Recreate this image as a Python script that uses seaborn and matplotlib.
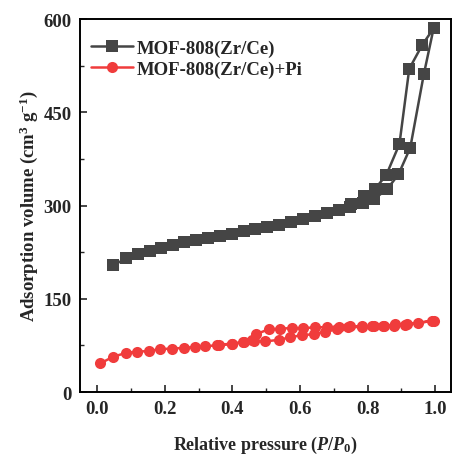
import numpy as np
import pandas as pd
import seaborn as sns
import matplotlib.pyplot as plt
from matplotlib.ticker import MultipleLocator

# MOF-808(Zr/Ce): adsorption then desorption branch
mof_ads_x = [0.048, 0.086, 0.120, 0.155, 0.189, 0.224, 0.258, 0.293, 0.327, 0.364,
             0.399, 0.434, 0.468, 0.503, 0.538, 0.573, 0.609, 0.644, 0.680, 0.714,
             0.749, 0.786, 0.820, 0.857, 0.891, 0.926, 0.966, 0.995]
mof_ads_y = [204, 215, 222, 227, 232, 236, 241, 244, 248, 251,
             254, 258, 262, 265, 269, 273, 278, 283, 288, 291,
             298, 304, 311, 326, 350, 393, 511, 585]
mof_des_x = [0.962, 0.923, 0.894, 0.855, 0.822, 0.788, 0.750, 0.714, 0.680, 0.644,
             0.609, 0.573, 0.538, 0.503, 0.468, 0.434, 0.399, 0.364, 0.327]
mof_des_y = [559, 520, 399, 349, 327, 315, 302, 294, 289, 284,
             279, 274, 270, 266, 263, 259, 255, 252, 249]

# MOF-808(Zr/Ce)+Pi: adsorption then desorption branch
pi_ads_x = [0.009, 0.048, 0.086, 0.117, 0.153, 0.186, 0.222, 0.257, 0.290, 0.320,
            0.354, 0.398, 0.433, 0.464, 0.497, 0.537, 0.571, 0.605, 0.640, 0.675,
            0.709, 0.743, 0.782, 0.814, 0.846, 0.879, 0.910, 0.950, 0.997]
pi_ads_y = [46, 57, 63, 65, 66, 69, 70, 71, 72.5, 73,
            75.5, 77.6, 80, 82.5, 81.5, 84, 88, 91.6, 93, 97,
            101, 104, 105, 106, 106, 107, 108, 111, 115]
pi_des_x = [0.990, 0.950, 0.916, 0.882, 0.848, 0.818, 0.784, 0.749, 0.716, 0.680,
            0.645, 0.610, 0.575, 0.541, 0.507, 0.470, 0.457, 0.430, 0.400, 0.360,
            0.320, 0.290]
pi_des_y = [114.6, 111, 109, 109, 106, 105.6, 106, 105.6, 105, 104.5,
            104, 103, 103, 102, 101, 93, 84, 80, 78, 76,
            74, 73]

labels = ["MOF-808(Zr/Ce)", "MOF-808(Zr/Ce)+Pi"]

df = pd.concat([
    pd.DataFrame({"x": mof_ads_x + mof_des_x, "y": mof_ads_y + mof_des_y, "s": labels[0]}),
    pd.DataFrame({"x": pi_ads_x + pi_des_x, "y": pi_ads_y + pi_des_y, "s": labels[1]}),
], ignore_index=True)

sns.set_style("ticks")
plt.rcParams["font.family"] = ["Liberation Serif", "DejaVu Serif"]
plt.rcParams["font.weight"] = "bold"
plt.rcParams["mathtext.fontset"] = "custom"
plt.rcParams["mathtext.rm"] = "Liberation Serif:bold"
plt.rcParams["mathtext.it"] = "Liberation Serif:italic:bold"
plt.rcParams["mathtext.bf"] = "Liberation Serif:bold"
plt.rcParams["xtick.direction"] = "in"
plt.rcParams["ytick.direction"] = "in"

fig = plt.figure(figsize=(4.53, 4.56), dpi=100)
ax = fig.add_axes([0.177, 0.138, 0.819, 0.818])

sns.lineplot(data=df, x="x", y="y", hue="s", style="s", sort=False,
             palette=["#454545", "#f03c3c"], markers=["s", "o"], dashes=False,
             markersize=8, markeredgewidth=0, linewidth=1.8, ax=ax)

ax.set_xlim(-0.05, 1.047)
ax.set_ylim(0, 600)
ax.xaxis.set_major_locator(MultipleLocator(0.2))
ax.xaxis.set_minor_locator(MultipleLocator(0.1))
ax.yaxis.set_major_locator(MultipleLocator(150))
ax.yaxis.set_minor_locator(MultipleLocator(75))
ax.xaxis.set_major_formatter(plt.FuncFormatter(lambda v, p: f"{v:.1f}"))
ax.tick_params(which="major", length=5, width=1.2, labelsize=13.5, pad=6)
ax.tick_params(which="minor", length=3, width=1.0)
for sp in ax.spines.values():
    sp.set_linewidth(1.4)
    sp.set_color("black")

ax.set_xlabel(r"Relative pressure ($P/P_0$)", fontsize=13, fontweight="bold", labelpad=12)
ax.set_ylabel(r"Adsorption volume (cm$^3$ g$^{-1}$)", fontsize=13.5, fontweight="bold", labelpad=3)

leg = ax.legend(loc="upper left", frameon=False, handlelength=2.2,
                bbox_to_anchor=(0.0, 0.975), borderaxespad=0.2,
                handletextpad=0.2, labelspacing=0.2,
                prop={"weight": "bold", "size": 13.5})
for h in leg.legend_handles:
    h.set_markersize(8)

fig.savefig("out.png", dpi=100)
